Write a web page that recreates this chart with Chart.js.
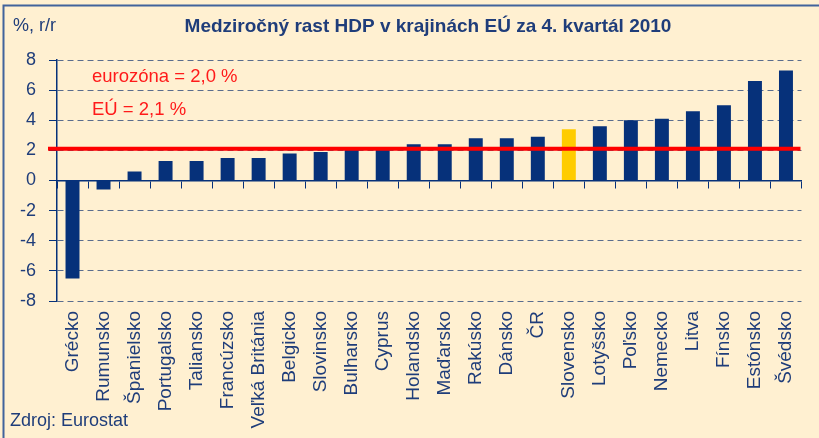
<!DOCTYPE html>
<html lang="sk">
<head>
<meta charset="utf-8">
<title>Medziročný rast HDP v krajinách EÚ za 4. kvartál 2010</title>
<script src="https://cdn.jsdelivr.net/npm/chart.js@4/dist/chart.umd.min.js"></script>
<style>
    html, body { margin: 0; padding: 0; background: #FFF0D1; }
    #wrap { position: relative; width: 819px; height: 438px; }
</style>
</head>
<body>
<div id="wrap"><canvas id="gdpChart"></canvas></div>
<script>
// Data
const countries = ['Grécko', 'Rumunsko', 'Španielsko', 'Portugalsko', 'Taliansko', 'Francúzsko',
    'Veľká Británia', 'Belgicko', 'Slovinsko', 'Bulharsko', 'Cyprus', 'Holandsko', 'Maďarsko',
    'Rakúsko', 'Dánsko', 'ČR', 'Slovensko', 'Lotyšsko', 'Poľsko', 'Nemecko', 'Litva', 'Fínsko',
    'Estónsko', 'Švédsko'];
const growth = [-6.5, -0.6, 0.6, 1.3, 1.3, 1.5, 1.5, 1.8, 1.9, 2.1, 2.2, 2.4, 2.4,
    2.8, 2.8, 2.9, 3.4, 3.6, 4.0, 4.1, 4.6, 5.0, 6.6, 7.3];
const highlighted = 'Slovensko';
const euAverage = 2.1;
const annotations = ['eurozóna = 2,0 %', 'EÚ = 2,1 %'];
const yTicks = { min: -8, max: 8, step: 2 };

const NAVY = '#06317A';
const TEXT = '#1F3D7A';
const FONT = "'Liberation Sans', Arial, sans-serif";

Chart.defaults.font.family = FONT;
Chart.defaults.color = TEXT;

// Frame, title, EU line and notes
const decorPlugin = {
    id: 'decor',
    beforeDraw(chart) {
        const { ctx, width, height } = chart;
        ctx.save();
        ctx.fillStyle = '#FFF0D1';
        ctx.fillRect(0, 0, width, height);
        ctx.strokeStyle = '#41639C';
        ctx.lineWidth = 2;
        ctx.beginPath();
        ctx.moveTo(3.5, height);
        ctx.lineTo(3.5, 5.5);
        ctx.lineTo(width, 5.5);
        ctx.stroke();
        ctx.restore();
    },
    afterDatasetsDraw(chart) {
        const { ctx, chartArea } = chart;
        const y = chart.scales.y;
        ctx.save();

        // EU average line
        const ly = y.getPixelForValue(euAverage);
        ctx.strokeStyle = '#FF0000';
        ctx.lineWidth = 4;
        ctx.beginPath();
        ctx.moveTo(chartArea.left - 9, ly);
        ctx.lineTo(chartArea.right - 1, ly);
        ctx.stroke();

        ctx.fillStyle = '#FF1A1A';
        ctx.font = '18.5px ' + FONT;
        ctx.textBaseline = 'middle';
        ctx.textAlign = 'left';
        ctx.fillText(annotations[0], chartArea.left + 35, y.getPixelForValue(6.9));
        ctx.fillText(annotations[1], chartArea.left + 35, y.getPixelForValue(4.7));

        // title & captions
        ctx.fillStyle = TEXT;
        ctx.font = 'bold 19px ' + FONT;
        ctx.textAlign = 'center';
        ctx.fillText('Medziročný rast HDP v krajinách EÚ za 4. kvartál 2010', 428, 27);
        ctx.font = '18px ' + FONT;
        ctx.textAlign = 'left';
        ctx.fillText('%, r/r', 13, 26);
        ctx.fillText('Zdroj: Eurostat', 10, 421);
        ctx.restore();
    }
};

const chart = new Chart(document.getElementById('gdpChart'), {
    type: 'bar',
    data: {
        labels: countries,
        datasets: [{
            label: 'HDP r/r',
            data: growth,
            backgroundColor: countries.map(c => c === highlighted ? '#FFCC00' : NAVY),
            barPercentage: 0.45,
            categoryPercentage: 1
        }]
    },
    options: {
        responsive: true,
        maintainAspectRatio: false,
        animation: false,
        layout: { padding: { top: 60, right: 11, left: 0, bottom: 0 } },
        plugins: {
            legend: { display: false },
            tooltip: { enabled: false }
        },
        scales: {
            x: {
                position: 'bottom',
                grid: { display: false, drawTicks: false },
                border: { display: false },
                ticks: {
                    minRotation: 90,
                    maxRotation: 90,
                    autoSkip: false,
                    padding: 10,
                    color: TEXT,
                    font: { size: 19 }
                },
                afterFit: (scale) => { scale.height = 137; }
            },
            // category axis line drawn at zero
            xZero: {
                type: 'category',
                position: { y: 0 },
                offset: true,
                grid: {
                    drawOnChartArea: false,
                    drawTicks: true,
                    tickLength: 7,
                    tickColor: NAVY,
                    offset: true
                },
                border: { display: true, color: NAVY, width: 1.5 },
                ticks: { display: false }
            },
            y: {
                min: yTicks.min,
                max: yTicks.max,
                ticks: {
                    stepSize: yTicks.step,
                    padding: 13,
                    color: TEXT,
                    font: { size: 18 }
                },
                grid: {
                    color: (c) => c.tick && c.tick.value === 0 ? 'rgba(0,0,0,0)' : '#5A6D8E',
                    tickColor: NAVY,
                    tickLength: 8,
                    lineWidth: 1,
                    drawTicks: true
                },
                border: { display: true, color: NAVY, width: 1.5, dash: [6, 4] },
                afterFit: (scale) => { scale.width = 57; }
            }
        }
    },
    plugins: [decorPlugin]
});
</script>
</body>
</html>
